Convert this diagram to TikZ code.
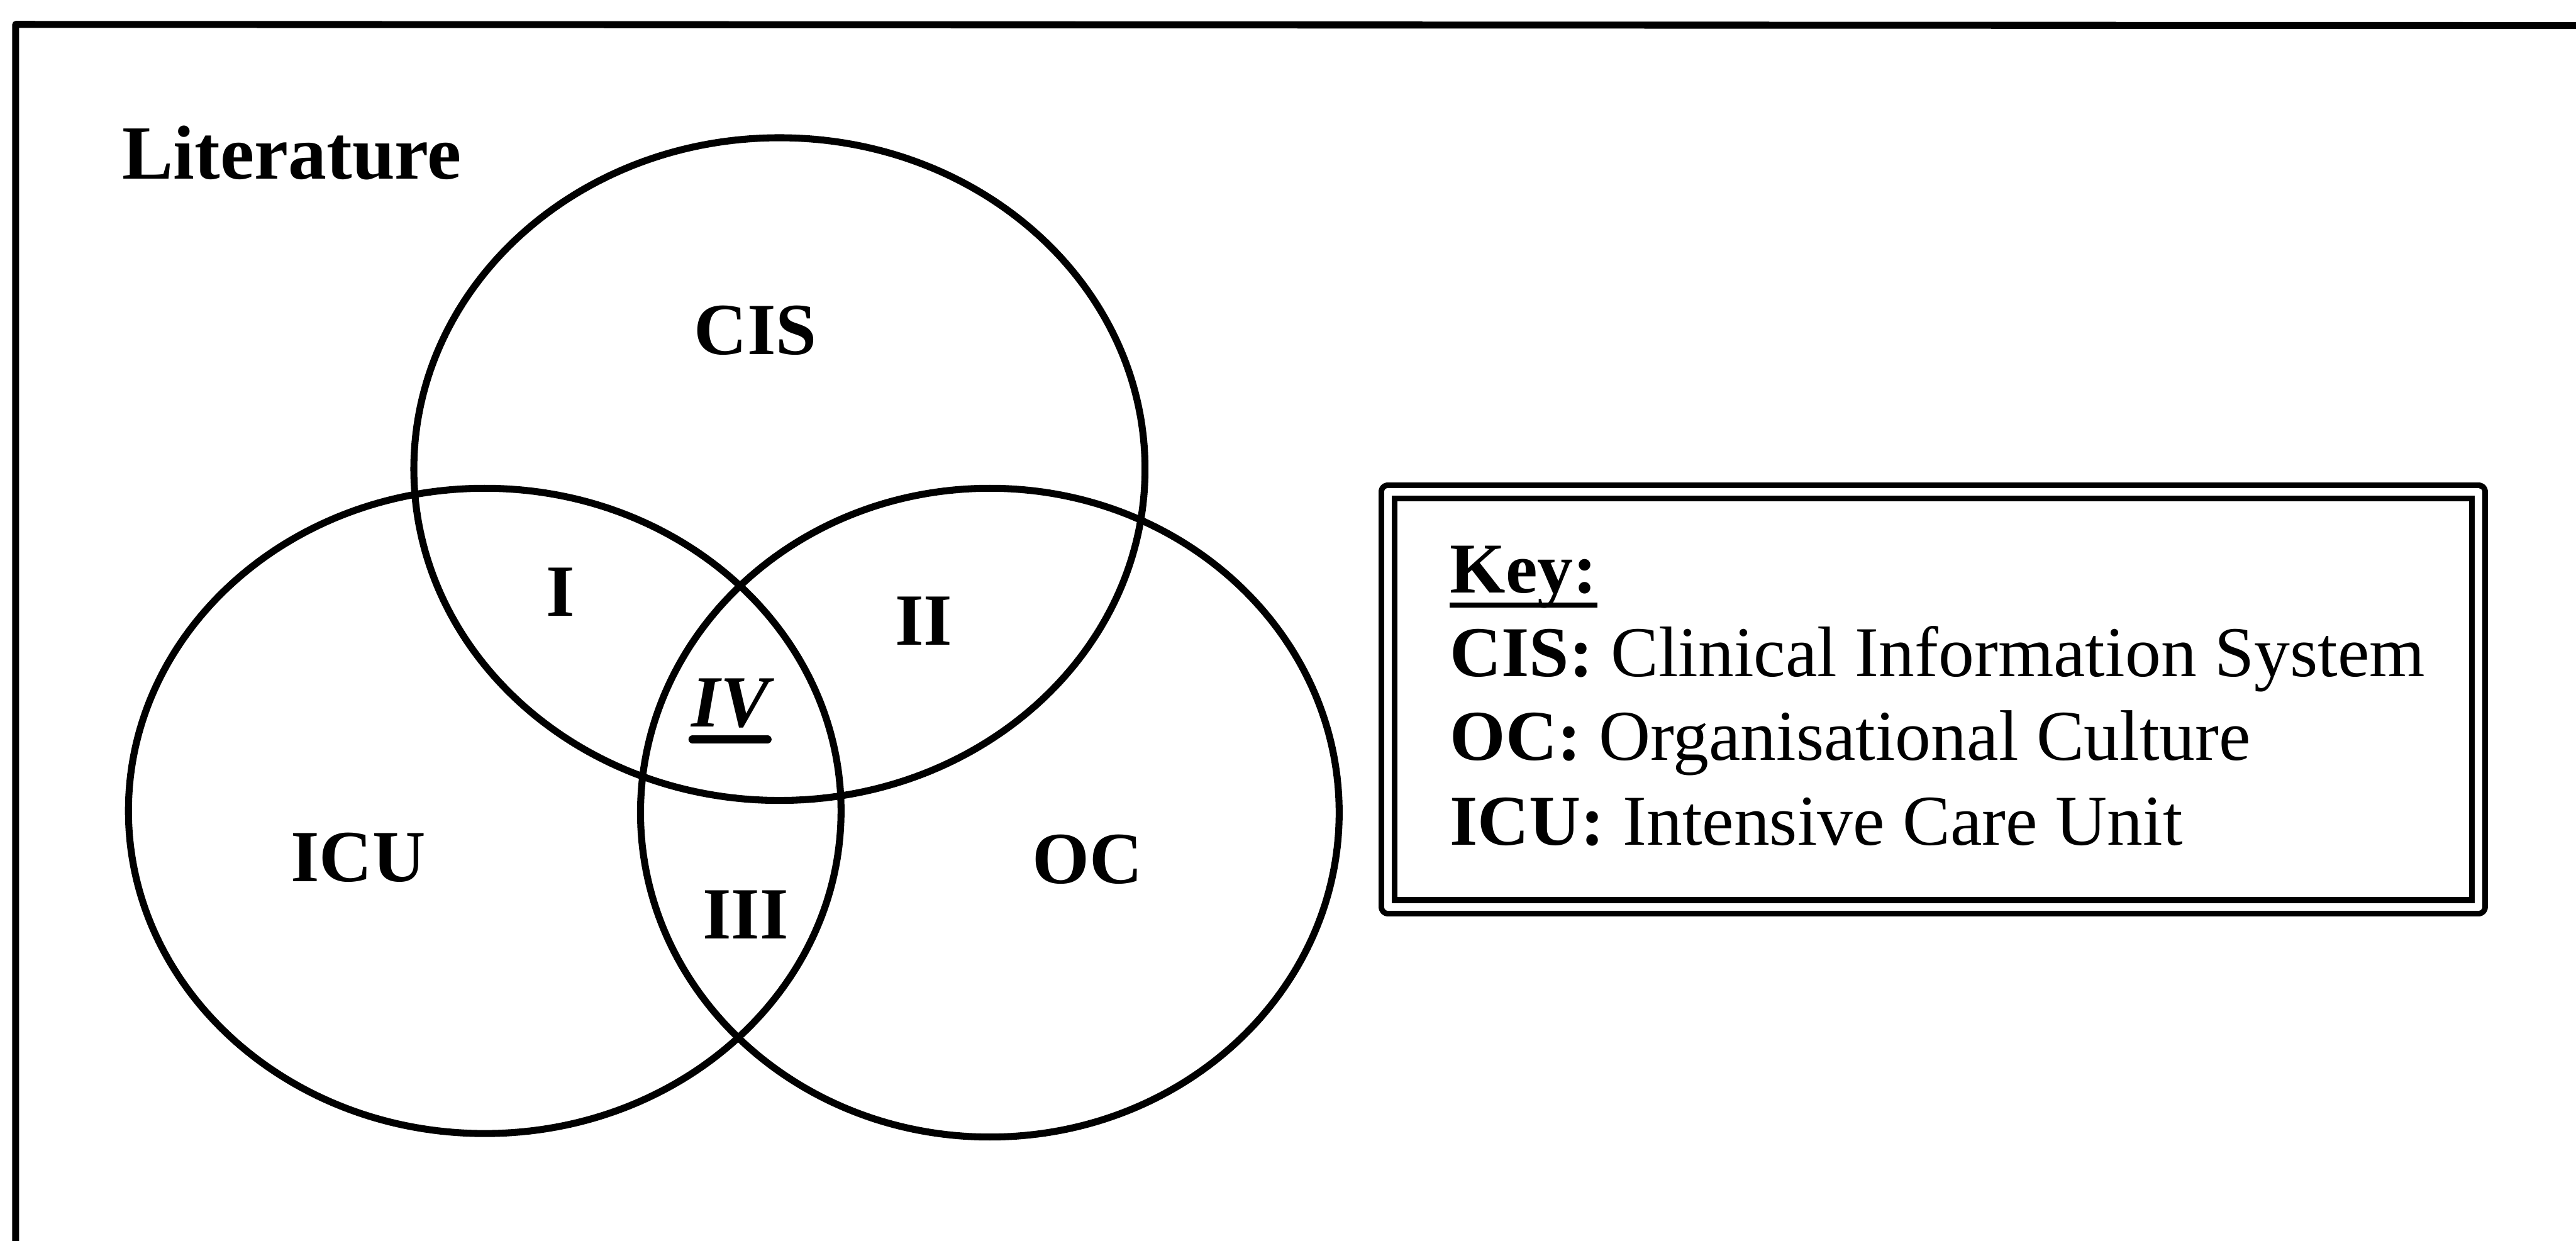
\documentclass[tikz,border=0pt]{standalone}
\usepackage{fontspec}
\setmainfont{Liberation Serif}

\tikzset{
    set/.style={line width=0.12cm},
    region/.style={inner sep=0pt, font=\fontsize{36}{43}\selectfont\bfseries},
    keyline/.style={inner sep=0pt, anchor=base west, font=\fontsize{35}{42}\selectfont}
}

\begin{document}
\begin{tikzpicture}[line join=round]
        \useasboundingbox (0, 0) rectangle (44.32, 21.34);

        % frame (only top and left edge show)
        \coordinate (ftl) at (0.27, 20.92);
        \coordinate (ftr) at (44.40, 20.90);
        \coordinate (fbl) at (0.27, -0.10);
        \draw[line width=0.12cm] (fbl) -- (ftl) -- (ftr);

        \node[anchor=base west, inner sep=0pt, font=\fontsize{37.5}{45}\selectfont\bfseries] (lit) at (2.10, 18.26) {Literature};

        % the three sets
        \draw[set] (13.41, 13.27) ellipse [x radius=6.29, y radius=5.70];
        \draw[set] (8.34, 7.39) ellipse [x radius=6.13, y radius=5.55];
        \draw[set] (17.03, 7.36) ellipse [x radius=6.01, y radius=5.58];

        \node[region] (cis) at (13.00, 15.66) {CIS};
        \node[region] (icu) at (6.16, 6.59) {ICU};
        \node[region] (oc) at (18.71, 6.56) {OC};
        \node[region] (r1) at (9.64, 11.16) {I};
        \node[region] (r2) at (15.89, 10.66) {II};
        \node[region] (r3) at (12.83, 5.60) {III};
        \node[region, anchor=base, font=\fontsize{36}{43}\selectfont\bfseries\itshape] (r4) at (12.57, 8.84) {IV};
        \draw[line width=0.14cm, line cap=round] ([yshift=-0.22cm, xshift=0.02cm]r4.base west) -- ([yshift=-0.22cm, xshift=-0.04cm]r4.base east);

        % key
        \node[draw, line width=0.1cm, double, double distance=0.13cm, minimum width=18.76cm, minimum height=7.14cm] (keybox) at (33.26, 9.31) {};
        \node[keyline, font=\fontsize{35}{42}\selectfont\bfseries] (keyhead) at (24.94, 11.14) {Key:};
        \draw[line width=0.09cm] ([yshift=-0.21cm]keyhead.base west) -- ([yshift=-0.21cm]keyhead.base east);
        \node[keyline] (kcis) at (24.94, 9.70) {\textbf{CIS:} Clinical Information System};
        \node[keyline] (koc) at (24.94, 8.26) {\textbf{OC:} Organisational Culture};
        \node[keyline] (kicu) at (24.94, 6.80) {\textbf{ICU:} Intensive Care Unit};
    \end{tikzpicture}
\end{document}
